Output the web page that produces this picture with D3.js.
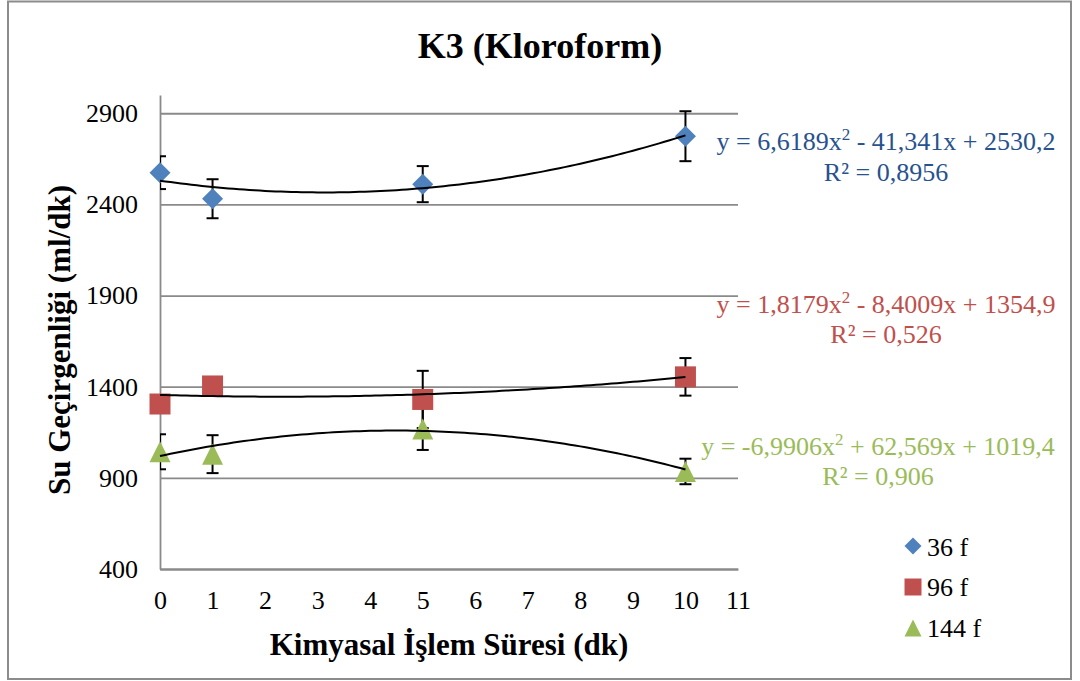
<!DOCTYPE html>
<html>
<head>
<meta charset="utf-8">
<script src="https://cdn.jsdelivr.net/npm/d3@7"></script>
<style>
  html, body { margin: 0; padding: 0; background: #fff; }
  svg text { font-family: "Liberation Serif", "Times New Roman", serif !important; }
</style>
</head>
<body>
<svg id="chart" width="1080" height="681"></svg>
<script>
// Treatment times (dk)
const times = [0, 1, 5, 10];

// Mean water permeability (ml/dk) and error per fabric group
const mean36 = [2574, 2431, 2511, 2774];
const err36 = [90, 107, 99, 137];
const mean96 = [1305, 1404, 1330, 1454];
const err96 = [25, 30, 157, 103];
const mean144 = [1043, 1030, 1168, 935];
const err144 = [96, 104, 115, 70];

// Second order polynomial trendline coefficients [a, b, c] for a*x^2 + b*x + c
const fit36 = [6.6189, -41.341, 2530.2];
const fit96 = [1.8179, -8.4009, 1354.9];
const fit144 = [-6.9906, 62.569, 1019.4];

// Trendline labels
const eq36 = ["y = 6,6189x", " - 41,341x + 2530,2", "R² = 0,8956"];
const eq96 = ["y = 1,8179x", " - 8,4009x + 1354,9", "R² = 0,526"];
const eq144 = ["y = -6,9906x", " + 62,569x + 1019,4", "R² = 0,906"];

const seriesNames = ["36 f", "96 f", "144 f"];
const xTickValues = [0, 1, 2, 3, 4, 5, 6, 7, 8, 9, 10, 11];
const yTickValues = [400, 900, 1400, 1900, 2400, 2900];

const svg = d3.select("#chart");
const W = 1080, H = 681;
const plot = { left: 160, right: 738, top: 95, bottom: 569 };

const x = d3.scaleLinear().domain([0, 11]).range([plot.left, plot.right]);
const y = d3.scaleLinear().domain([400, 3000]).range([plot.bottom, plot.top]);

const gridColor = "#8a8a8a";

// Outer frame
svg.append("rect")
  .attr("x", 8).attr("y", 1.5).attr("width", 1063).attr("height", 677.5)
  .attr("fill", "#fff").attr("stroke", "#8c8c8c").attr("stroke-width", 2);

// Title
svg.append("text")
  .attr("x", 540).attr("y", 58)
  .attr("text-anchor", "middle")
  .attr("font-weight", "bold").attr("font-size", 36)
  .text("K3 (Kloroform)");

// Horizontal gridlines
svg.append("g")
  .attr("transform", `translate(${plot.left},0)`)
  .call(d3.axisLeft(y).tickValues(yTickValues).tickSize(-(plot.right - plot.left)).tickFormat(""))
  .call(g => g.select(".domain").remove())
  .call(g => g.selectAll(".tick line").attr("stroke", gridColor).attr("stroke-width", 1.8));

// Y axis
const yAxis = svg.append("g")
  .attr("transform", `translate(${plot.left},0)`)
  .call(d3.axisLeft(y).tickValues(yTickValues).tickSize(0).tickPadding(22).tickFormat(d3.format("d")))
  .attr("font-family", null).attr("font-size", 26);
yAxis.select(".domain").attr("stroke", gridColor).attr("stroke-width", 1.8);
yAxis.selectAll(".tick text").attr("fill", "#000");

// X axis
const xAxis = svg.append("g")
  .attr("transform", `translate(0,${plot.bottom})`)
  .call(d3.axisBottom(x).tickValues(xTickValues).tickSize(0).tickPadding(22).tickFormat(d3.format("d")))
  .attr("font-family", null).attr("font-size", 26);
xAxis.select(".domain").attr("stroke", gridColor).attr("stroke-width", 1.8);
xAxis.selectAll(".tick text").attr("fill", "#000");

// Axis titles
svg.append("text")
  .attr("x", 449).attr("y", 655)
  .attr("text-anchor", "middle")
  .attr("font-weight", "bold").attr("font-size", 31)
  .text("Kimyasal İşlem Süresi (dk)");

svg.append("text")
  .attr("transform", "translate(70,340) rotate(-90)")
  .attr("text-anchor", "middle")
  .attr("font-weight", "bold").attr("font-size", 31)
  .text("Su Geçirgenliği (ml/dk)");

// Clip for error bars
svg.append("clipPath").attr("id", "plotClip")
  .append("rect")
  .attr("x", plot.left).attr("y", 0)
  .attr("width", plot.right - plot.left + 20).attr("height", H);

const series = [
  { name: seriesNames[0], mean: mean36, err: err36, fit: fit36, eq: eq36, color: "#4f81bd", textColor: "#28528e", shape: "diamond" },
  { name: seriesNames[1], mean: mean96, err: err96, fit: fit96, eq: eq96, color: "#c0504d", textColor: "#c0504d", shape: "square" },
  { name: seriesNames[2], mean: mean144, err: err144, fit: fit144, eq: eq144, color: "#9bbb59", textColor: "#9bbb59", shape: "triangle" }
];

function markerPath(shape, s) {
  const h = s / 2;
  if (shape === "diamond") return `M0,${-h}L${h},0L0,${h}L${-h},0Z`;
  if (shape === "square") return `M${-h},${-h}H${h}V${h}H${-h}Z`;
  return `M0,${-h}L${h},${h}L${-h},${h}Z`;
}

// Error bars
const errG = svg.append("g").attr("clip-path", "url(#plotClip)");
series.forEach(s => {
  times.forEach((t, i) => {
    const cx = x(t), y1 = y(s.mean[i] + s.err[i]), y2 = y(s.mean[i] - s.err[i]);
    const g = errG.append("g").attr("stroke", "#000").attr("stroke-width", 2);
    g.append("line").attr("x1", cx).attr("x2", cx).attr("y1", y1).attr("y2", y2);
    g.append("line").attr("x1", cx - 6).attr("x2", cx + 6).attr("y1", y1).attr("y2", y1);
    g.append("line").attr("x1", cx - 6).attr("x2", cx + 6).attr("y1", y2).attr("y2", y2);
  });
});

// Markers
series.forEach(s => {
  svg.append("g").selectAll("path")
    .data(times.map((t, i) => [t, s.mean[i]]))
    .join("path")
    .attr("transform", d => `translate(${x(d[0])},${y(d[1])})`)
    .attr("d", markerPath(s.shape, 21))
    .attr("fill", s.color);
});

// Polynomial trendlines
const line = d3.line().x(d => x(d[0])).y(d => y(d[1])).curve(d3.curveLinear);
series.forEach(s => {
  const pts = d3.range(0, 10.0001, 0.1).map(t => [t, s.fit[0] * t * t + s.fit[1] * t + s.fit[2]]);
  svg.append("path")
    .attr("d", line(pts))
    .attr("fill", "none").attr("stroke", "#000").attr("stroke-width", 2);
});

// Trendline equation labels
const eqPos = [
  { cx: 886, y1: 150, y2: 181 },
  { cx: 886, y1: 313, y2: 343 },
  { cx: 878, y1: 455, y2: 485 }
];
series.forEach((s, i) => {
  const p = eqPos[i];
  const t1 = svg.append("text")
    .attr("x", p.cx).attr("y", p.y1)
    .attr("text-anchor", "middle")
    .attr("font-size", 26).attr("fill", s.textColor);
  t1.append("tspan").text(s.eq[0]);
  t1.append("tspan").attr("font-size", 17).attr("dy", -10).text("2");
  t1.append("tspan").attr("dy", 10).text(s.eq[1]);
  svg.append("text")
    .attr("x", p.cx).attr("y", p.y2)
    .attr("text-anchor", "middle")
    .attr("font-size", 26).attr("fill", s.textColor)
    .text(s.eq[2]);
});

// Legend
const legendRows = [546, 587, 628];
const legendText = [556, 596, 637];
series.forEach((s, i) => {
  svg.append("path")
    .attr("transform", `translate(913,${legendRows[i]})`)
    .attr("d", markerPath(s.shape, 17))
    .attr("fill", s.color);
  svg.append("text")
    .attr("x", 927).attr("y", legendText[i])
    .attr("font-size", 26).attr("fill", "#000")
    .text(s.name);
});
</script>
</body>
</html>
